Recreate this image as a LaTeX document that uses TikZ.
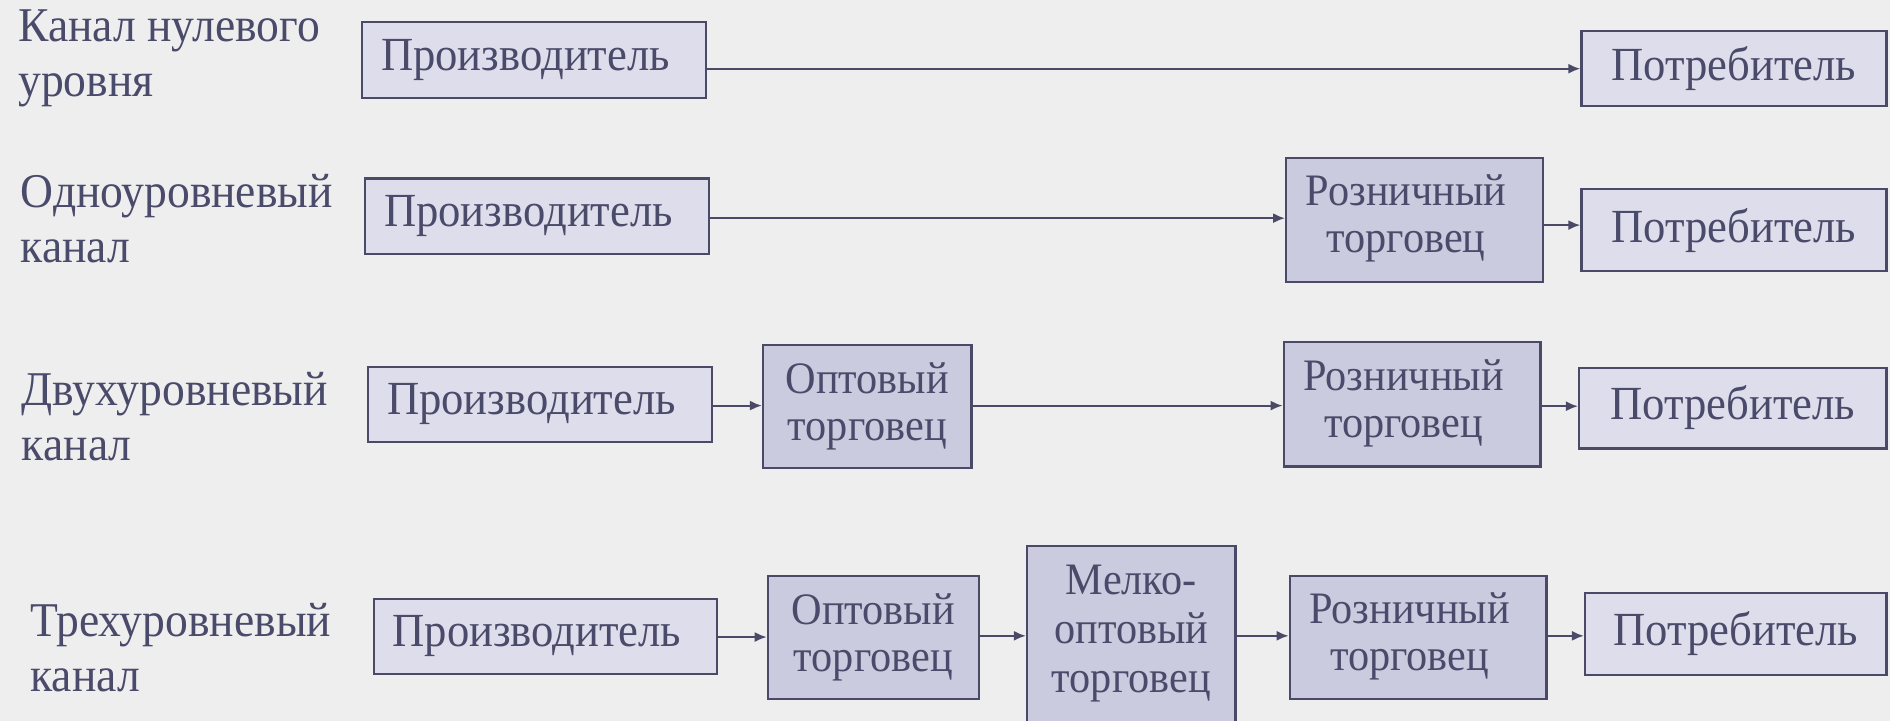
\documentclass[tikz,border=0pt]{standalone}
\usepackage{fontspec}
\setmainfont{Liberation Serif}[FakeStretch=0.94]
\usetikzlibrary{arrows.meta,calc}
\definecolor{bgc}{HTML}{EEEEEF}
\definecolor{ink}{HTML}{4A4A6A}
\definecolor{edge}{HTML}{4A4A68}
\definecolor{boxa}{HTML}{DDDDEB}
\definecolor{boxb}{HTML}{CBCBDF}
% text block set a little left of the box centre
\newcommand{\lft}[1]{\begin{tabular}{@{}c@{}}#1\end{tabular}\hspace*{17pt}}
\begin{document}
\begin{tikzpicture}[x=1.2054pt,y=-1.2054pt,
  sz/.style 2 args={minimum width=#1*1.2054pt, minimum height=#2*1.2054pt},
  box/.style={draw=edge, line width=2.2pt, fill=boxa, inner sep=0pt, align=center,
    text=ink, font=\fontsize{47.5}{52}\selectfont},
  mid/.style={box, fill=boxb, font=\fontsize{45}{47}\selectfont},
  lbl/.style={anchor=west, align=left, inner sep=0pt, text=ink,
    font=\fontsize{48.5}{55}\selectfont},
  arr/.style={draw=edge, line width=1.9pt, -{Latex[length=12pt,width=10pt]}}]
\fill[bgc] (0,0) rectangle (1568,598);
\useasboundingbox (0,0) rectangle (1568,598);

% channel names
\node[lbl] (l1) at (15,48)  {Канал нулевого\\уровня};
\node[lbl] (l2) at (17,181) {Одноуровневый\\канал};
\node[lbl] (l3) at (18,346) {Двухуровневый\\канал};
\node[lbl] (l4) at (25,537) {Трехуровневый\\канал};

% zero-level channel
\node[box, sz={286}{63}] (p1) at (443,49.5) {\lft{Производитель}};
\node[box, sz={253}{62}] (c1) at (1438.5,57) {Потребитель};
\draw[arr] (c1.west -| p1.east) -- (c1.west);

% one-level channel
\node[box, sz={285}{63}] (p2) at (445.5,179.5) {\lft{Производитель}};
\node[mid, sz={213}{103}] (r2) at (1173.5,182.5) {\lft{Розничный\\торговец}};
\node[box, sz={253}{68}] (c2) at (1438.5,191) {Потребитель};
\coordinate (a2) at ($(p2.east)!.5!(r2.west)$);
\coordinate (b2) at ($(r2.east)!.5!(c2.west)$);
\draw[arr] (a2 -| p2.east) -- (a2 -| r2.west);
\draw[arr] (b2 -| r2.east) -- (b2 -| c2.west);

% two-level channel
\node[box, sz={286}{62}] (p3) at (448,335.5) {\lft{Производитель}};
\node[mid, sz={173}{102}] (o3) at (719.5,337.5) {Оптовый\\торговец};
\node[mid, sz={213}{103}] (r3) at (1171.5,335.5) {\lft{Розничный\\торговец}};
\node[box, sz={255}{67}] (c3) at (1437.5,338.5) {Потребитель};
\coordinate (a3) at ($(p3.east)!.5!(o3.west)$);
\coordinate (b3) at ($(o3.east)!.5!(r3.west)$);
\coordinate (d3) at ($(r3.east)!.5!(c3.west)$);
\draw[arr] (a3 -| p3.east) -- (a3 -| o3.west);
\draw[arr] (b3 -| o3.east) -- (b3 -| r3.west);
\draw[arr] (d3 -| r3.east) -- (d3 -| c3.west);

% three-level channel
\node[box, sz={285}{62}] (p4) at (452.5,528) {\lft{Производитель}};
\node[mid, sz={175}{102}] (o4) at (724.5,529) {Оптовый\\торговец};
\node[mid, sz={173}{146}, font=\fontsize{45}{49}\selectfont] (m4) at (938.5,526) {Мелко-\\оптовый\\торговец};
\node[mid, sz={213}{102}] (r4) at (1176.5,529) {\lft{Розничный\\торговец}};
\node[box, sz={250}{68}] (c4) at (1440,526) {Потребитель};
\coordinate (a4) at ($(p4.east)!.5!(o4.west)$);
\coordinate (b4) at ($(o4.east)!.5!(m4.west)$);
\coordinate (d4) at ($(m4.east)!.5!(r4.west)$);
\coordinate (e4) at ($(r4.east)!.5!(c4.west)$);
\draw[arr] (a4 -| p4.east) -- (a4 -| o4.west);
\draw[arr] (b4 -| o4.east) -- (b4 -| m4.west);
\draw[arr] (d4 -| m4.east) -- (d4 -| r4.west);
\draw[arr] (e4 -| r4.east) -- (e4 -| c4.west);
\end{tikzpicture}
\end{document}
